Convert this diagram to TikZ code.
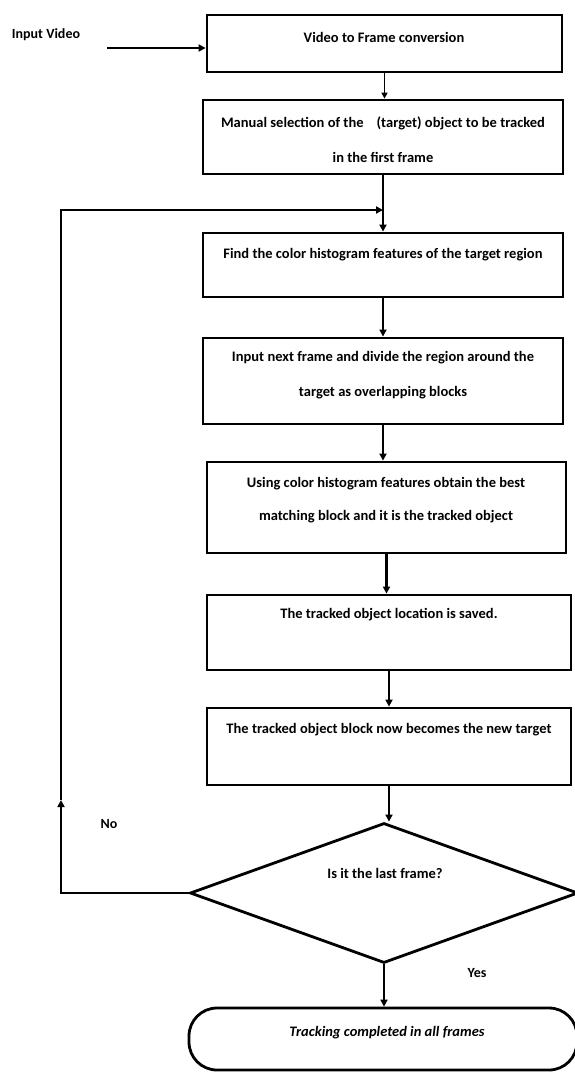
\documentclass[tikz,border=0pt]{standalone}
\usepackage{fontspec}
\setmainfont{Carlito}
\usetikzlibrary{arrows.meta,shapes.geometric,calc}
\begin{document}
\begin{tikzpicture}[x=1pt,y=-1pt,
  box/.style={draw, line width=2.8pt, inner sep=0pt},
  txt/.style={inner sep=0pt, font=\fontsize{14.5}{16}\selectfont\bfseries},
  arr/.style={line width=2.8pt, -{Triangle[length=7pt,width=7pt]}},
  thinarr/.style={line width=1.5pt, -{Triangle[length=6pt,width=6pt]}}]
\useasboundingbox (0,0) rectangle (575,1073);

% boxes
\node[box, minimum width=355pt, minimum height=57pt] (b1) at (384.5,43.5) {};
\node[box, minimum width=360pt, minimum height=74pt] (b2) at (383,137) {};
\node[box, minimum width=360pt, minimum height=64pt] (b3) at (383,265) {};
\node[box, minimum width=360pt, minimum height=86pt] (b4) at (383,381) {};
\node[box, minimum width=359pt, minimum height=91pt] (b5) at (386.5,507.5) {};
\node[box, minimum width=364pt, minimum height=75pt] (b6) at (389,632.5) {};
\node[box, minimum width=364pt, minimum height=77pt] (b7) at (389,746.5) {};
\node[draw, line width=2.8pt, shape=diamond, minimum width=388pt, minimum height=140pt, inner sep=0pt] (dia) at (384,893) {};
\node[draw, line width=2.8pt, rectangle, rounded corners=28pt, minimum width=388pt, minimum height=62pt, inner sep=0pt] (term) at (383,1039) {};

% texts
\node[txt, font=\fontsize{14}{16}\selectfont\bfseries] (tin) at (46,35) {Input Video};
\node[txt] (t1) at (384,37) {Video to Frame conversion};
\node[txt] (t2a) at (383,123) {Manual selection of the\ \ \ \ (target) object to be tracked};
\node[txt] (t2b) at (383,157) {in the first frame};
\node[txt] (t3) at (383,255) {Find the color histogram features of the target region};
\node[txt] (t4a) at (383,358) {Input next frame and divide the region around the};
\node[txt] (t4b) at (383,393) {target as overlapping blocks};
\node[txt] (t5a) at (386,484) {Using color histogram features obtain the best};
\node[txt] (t5b) at (386,517) {matching block and it is the tracked object};
\node[txt] (t6) at (389,615) {The tracked object location is saved.};
\node[txt] (t7) at (389,730) {The tracked object block now becomes the new target};
\node[txt] (td) at (385,873) {Is it the last frame?};
\node[txt, font=\fontsize{14.5}{16}\selectfont\bfseries\itshape] (tt) at (387,1033) {Tracking completed in all frames};
\node[txt, font=\fontsize{14}{16}\selectfont\bfseries] (no) at (109,824) {No};
\node[txt, font=\fontsize{14}{16}\selectfont\bfseries] (yes) at (477,973) {Yes};

% connectors
\coordinate (inA) at (107,48);
\draw[arr] (inA) -- (inA -| b1.west);
\draw[thinarr] (b1.south) -- (b1.south |- b2.north);
\draw[arr] (b2.south) -- (b2.south |- b3.north);
\draw[arr] (b3.south) -- (b3.south |- b4.north);
\draw[arr] (b4.south) -- (b4.south |- b5.north);
\draw[arr] (b5.south) -- (b5.south |- b6.north);
\draw[arr] (b6.south) -- (b6.south |- b7.north);
\draw[arr] (b7.south) -- (b7.south |- dia.north);
\draw[arr] (dia.south) -- (dia.south |- term.north);

\coordinate (j) at (383,210);
\coordinate (lc1) at (61,893);
\coordinate (lm) at (61,800);
\coordinate (lc2) at (61,210);
\draw[arr] (dia.west) -- (lc1) -- (lm);
\draw[arr] (lm) -- (lc2) -- (j);
\end{tikzpicture}
\end{document}
